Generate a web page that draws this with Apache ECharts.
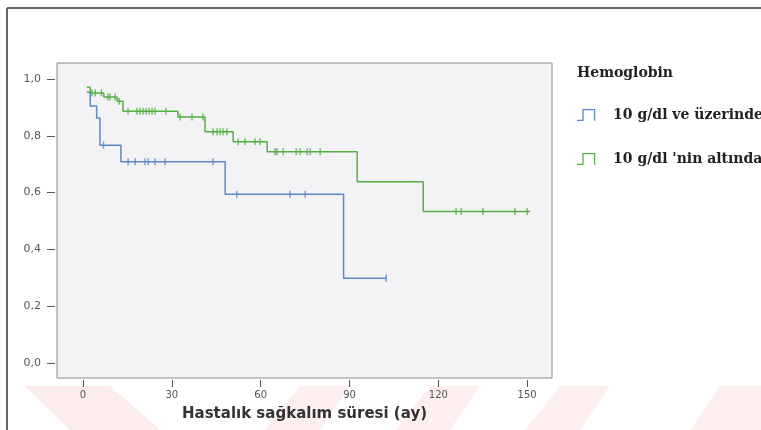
<!DOCTYPE html>
<html>
<head>
<meta charset="utf-8">
<script src="https://cdn.jsdelivr.net/npm/echarts@6/dist/echarts.min.js"></script>
<style>
  html, body { margin: 0; padding: 0; background: #fff; }
  #chart { width: 761px; height: 430px; }
</style>
</head>
<body>
<div id="chart"></div>
<script>
// Kaplan-Meier steps: time (months) and survival after each step
const seriesNames = ['10 g/dl ve üzerinde', "10 g/dl 'nin altında"]

const blueTimes = [1.25, 2.4, 4.6, 5.7, 12.8, 48, 88, 102.4]
const blueSurv = [0.953, 0.905, 0.863, 0.767, 0.709, 0.594, 0.298, 0.298]
const blueCensored = [6.9, 15.2, 17.6, 20.9, 22.0, 24.3, 27.7, 43.9, 51.9, 69.9, 75.0, 102.4]

const greenTimes = [1.25, 2.4, 7.0, 11.5, 13.5, 32.0, 41.2, 50.7, 62.2, 92.6, 114.9, 151]
const greenSurv = [0.971, 0.951, 0.937, 0.922, 0.886, 0.866, 0.814, 0.779, 0.744, 0.638, 0.533, 0.533]
const greenCensored = [3.0, 4.1, 6.2, 8.4, 9.1, 10.8, 12.2, 15.2, 18.2, 19.3, 20.3, 21.3, 22.3,
  23.3, 24.3, 28.0, 32.8, 36.8, 40.5, 43.9, 45.3, 46.3, 47.3, 48.6, 52.4, 54.7, 58.1, 59.8,
  64.9, 65.5, 67.6, 72.0, 73.3, 75.7, 76.7, 80.1, 126, 127.7, 135.1, 145.9, 150]

const xTicks = [0, 30, 60, 90, 120, 150]
const yTicks = [0, 0.2, 0.4, 0.6, 0.8, 1.0]

const blue = '#5b88c8'
const green = '#55b043'

function zip(ts, ss) {
  return ts.map((t, i) => [t, ss[i]])
}
// survival value of a step curve at time t (for placing censor marks)
function survAt(ts, ss, t) {
  let s = ss[0]
  for (let i = 0; i < ts.length; i++) {
    if (ts[i] <= t) s = ss[i]
  }
  return s
}

const stepIcon = 'path://M0,10 L5,10 L5,0 L17,0 L17,11 L15.8,11 L15.8,1.2 L6.2,1.2 L6.2,11.2 L0,11.2 Z'

const chart = echarts.init(document.getElementById('chart'))

chart.setOption({
  animation: false,
  backgroundColor: '#fff',
  title: {
    text: 'Hemoglobin',
    left: 572,
    top: 61,
    textStyle: { fontFamily: 'DejaVu Serif', fontWeight: 'bold', fontSize: 14, color: '#222' }
  },
  legend: {
    orient: 'vertical',
    left: 572,
    top: 103,
    itemWidth: 20,
    itemHeight: 12,
    itemGap: 30,
    data: [
      { name: seriesNames[0], icon: stepIcon },
      { name: seriesNames[1], icon: stepIcon }
    ],
    textStyle: {
      fontFamily: 'DejaVu Serif',
      fontWeight: 'bold',
      fontSize: 14,
      color: '#222',
      padding: [0, 0, 0, 12]
    }
  },
  grid: {
    left: 57,
    top: 63,
    width: 495,
    height: 315,
    show: true,
    backgroundColor: '#f3f3f5',
    borderColor: '#8c8c8c',
    borderWidth: 1
  },
  xAxis: {
    type: 'value',
    position: 'bottom',
    min: -8.8,
    max: 158.4,
    offset: 2,
    name: 'Hastalık sağkalım süresi (ay)',
    nameLocation: 'middle',
    nameGap: 27,
    nameTextStyle: { fontFamily: 'DejaVu Sans', fontWeight: 'bold', fontSize: 15, color: '#333' },
    axisLine: { show: false, onZero: false },
    splitLine: { show: false },
    axisTick: { show: true, length: 7, customValues: xTicks, lineStyle: { color: '#555' } },
    axisLabel: {
      customValues: xTicks,
      margin: 10,
      fontFamily: 'DejaVu Sans',
      fontSize: 10,
      color: '#555'
    }
  },
  yAxis: {
    type: 'value',
    position: 'left',
    min: -0.0528,
    max: 1.0563,
    offset: 2,
    axisLine: { show: false, onZero: false },
    splitLine: { show: false },
    axisTick: { show: true, length: 8, customValues: yTicks, lineStyle: { color: '#555' } },
    axisLabel: {
      customValues: yTicks,
      margin: 14,
      fontFamily: 'DejaVu Sans',
      fontSize: 11,
      color: '#555',
      formatter: v => v.toFixed(1).replace('.', ',')
    }
  },
  series: [
    {
      name: seriesNames[0],
      type: 'line',
      step: 'end',
      showSymbol: false,
      data: zip(blueTimes, blueSurv),
      itemStyle: { color: blue },
      lineStyle: { color: blue, width: 1.5 }
    },
    {
      name: seriesNames[1],
      type: 'line',
      step: 'end',
      showSymbol: false,
      data: zip(greenTimes, greenSurv),
      itemStyle: { color: green },
      lineStyle: { color: green, width: 1.5 }
    },
    {
      name: 'blue censored',
      type: 'scatter',
      symbol: 'rect',
      symbolSize: [1.5, 7],
      data: blueCensored.map(t => [t, survAt(blueTimes, blueSurv, t)]),
      itemStyle: { color: blue }
    },
    {
      name: 'green censored',
      type: 'scatter',
      symbol: 'rect',
      symbolSize: [1.5, 7],
      data: greenCensored.map(t => [t, survAt(greenTimes, greenSurv, t)]),
      itemStyle: { color: green }
    }
  ],
  graphic: [
    // faint watermark stripes along the bottom
    { type: 'polygon', z: -10, shape: { points: [[25, 386], [110, 386], [160, 430], [70, 430]] }, style: { fill: 'rgba(240,120,130,0.14)' } },
    { type: 'polygon', z: -10, shape: { points: [[300, 386], [350, 386], [320, 430], [265, 430]] }, style: { fill: 'rgba(240,120,130,0.12)' } },
    { type: 'polygon', z: -10, shape: { points: [[430, 386], [480, 386], [450, 430], [395, 430]] }, style: { fill: 'rgba(240,120,130,0.12)' } },
    { type: 'polygon', z: -10, shape: { points: [[560, 386], [610, 386], [580, 430], [525, 430]] }, style: { fill: 'rgba(240,120,130,0.12)' } },
    { type: 'polygon', z: -10, shape: { points: [[720, 386], [761, 386], [761, 430], [690, 430]] }, style: { fill: 'rgba(240,120,130,0.12)' } },
    // outer frame of the scanned figure
    { type: 'line', shape: { x1: 7, y1: 8, x2: 761, y2: 8 }, style: { stroke: '#666', lineWidth: 2 } },
    { type: 'line', shape: { x1: 7, y1: 8, x2: 7, y2: 430 }, style: { stroke: '#666', lineWidth: 2 } }
  ]
})
</script>
</body>
</html>
